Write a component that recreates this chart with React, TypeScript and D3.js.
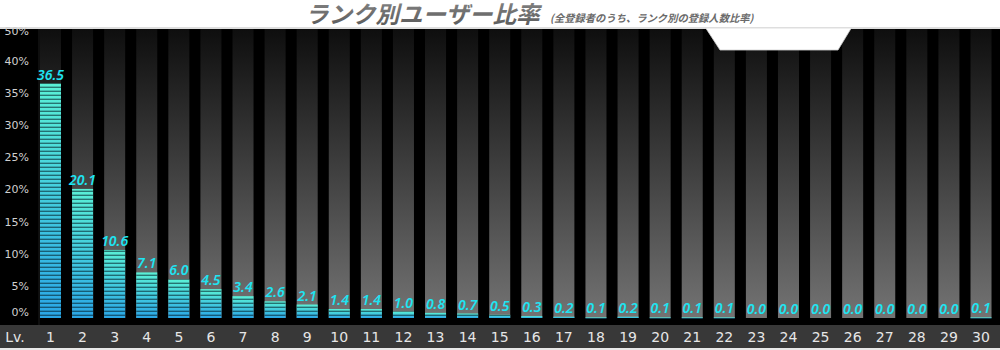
import React from 'react';
import * as d3 from 'd3';

// rank levels and share of registered users per level (%)
const levels = d3.range(1, 31).map(String);
const shares = [
  36.5, 20.1, 10.6, 7.1, 6.0, 4.5, 3.4, 2.6, 2.1, 1.4,
  1.4, 1.0, 0.8, 0.7, 0.5, 0.3, 0.2, 0.1, 0.2, 0.1,
  0.1, 0.1, 0.0, 0.0, 0.0, 0.0, 0.0, 0.0, 0.0, 0.1,
];
const yTicks = [0, 5, 10, 15, 20, 25, 30, 35, 40, 50];
const title = 'ランク別ユーザー比率';
const subtitle = '(全登録者のうち、ランク別の登録人数比率)';

const W = 1000;
const H = 350;

const App = () => {
  const panelTop = 29;
  const base = 318;

  const x = d3
    .scaleBand()
    .domain(levels)
    .range([34.45, 997.05])
    .paddingInner(0.345)
    .paddingOuter(0.1725);

  // the grey columns span 0..45%, which is the top of the panel
  const y = d3.scaleLinear().domain([0, 45]).range([base, panelTop]);

  // tick labels are clamped into the panel (0% and 50% sit at the edges)
  const tickY = (t) => Math.max(31, Math.min(312, y(t)));

  const notch = d3.line()([
    [706, panelTop - 0.5],
    [720, 50],
    [838, 50],
    [851, panelTop - 0.5],
  ]);

  return (
    <svg
      width={W}
      height={H}
      style={{ position: 'absolute', left: 0, top: 0, background: '#fff' }}
    >
      <defs>
        <linearGradient id="colBg" x1="0" y1="0" x2="0" y2="1">
          <stop offset="0%" stopColor="#0e0e0e" />
          <stop offset="100%" stopColor="#737373" />
        </linearGradient>
        <linearGradient id="barFill" x1="0" y1="0" x2="0" y2="1">
          <stop offset="0%" stopColor="#5af0d6" />
          <stop offset="100%" stopColor="#2aa6e6" />
        </linearGradient>
        <pattern id="stripes" width="8" height="4" patternUnits="userSpaceOnUse">
          <rect x="0" y="2.6" width="8" height="1.4" fill="rgba(0,20,30,0.55)" />
        </pattern>
        <linearGradient id="titleFill" x1="0" y1="0" x2="0" y2="1">
          <stop offset="0%" stopColor="#8a8a8a" />
          <stop offset="100%" stopColor="#555" />
        </linearGradient>
      </defs>

      {/* title (sits right against the top edge, as in the original) */}
      <text
        x={305}
        y={23}
        fontFamily="'Noto Sans CJK JP', sans-serif"
        fontWeight="bold"
        fontStyle="italic"
        fontSize={23.5}
        fill="url(#titleFill)"
      >
        {title}
      </text>
      <text
        x={550}
        y={22}
        fontFamily="'Noto Sans CJK JP', sans-serif"
        fontWeight="bold"
        fontStyle="italic"
        fontSize={10.3}
        fill="#6a6a6a"
      >
        {subtitle}
      </text>

      {/* black panel */}
      <rect x={0} y={panelTop} width={W} height={325 - panelTop} fill="#000" />
      <line x1={0} x2={W} y1={panelTop - 1} y2={panelTop - 1} stroke="#bdbdbd" />
      <line x1={39} x2={39} y1={panelTop} y2={325} stroke="#1c1c1c" />

      {/* grey background columns */}
      {levels.map((lv) => (
        <rect
          key={'bg' + lv}
          x={x(lv)}
          y={panelTop}
          width={x.bandwidth()}
          height={base - panelTop}
          fill="url(#colBg)"
        />
      ))}

      {/* striped bars */}
      {levels.map((lv, i) => {
        const v = shares[i];
        const h = base - y(v);
        if (h <= 0) return null;
        return (
          <g key={'bar' + lv}>
            <rect x={x(lv)} y={y(v)} width={x.bandwidth()} height={Math.max(h, 1)} fill="url(#barFill)" />
            <rect x={x(lv)} y={y(v)} width={x.bandwidth()} height={Math.max(h, 1)} fill="url(#stripes)" />
          </g>
        );
      })}

      {/* value labels */}
      {levels.map((lv, i) => (
        <text
          key={'val' + lv}
          x={x(lv) + x.bandwidth() / 2}
          y={y(shares[i]) - 4}
          textAnchor="middle"
          fontFamily="'Noto Sans', sans-serif"
          fontWeight="600"
          fontStyle="italic"
          fontSize={14}
          fill="#1ee4f2"
        >
          {shares[i].toFixed(1)}
        </text>
      ))}

      {/* y axis labels */}
      {yTicks.map((t) => (
        <text
          key={'yt' + t}
          x={29}
          y={tickY(t)}
          dy="0.35em"
          textAnchor="end"
          fontFamily="'DejaVu Sans', sans-serif"
          fontSize={11}
          fill="#d0d0d0"
        >
          {t}%
        </text>
      ))}

      {/* notch cut into the top edge */}
      <path d={notch} fill="#fff" stroke="#cfcfcf" strokeWidth={0.8} />

      {/* x axis band */}
      <rect x={0} y={325} width={W} height={23} fill="#383838" />
      <rect x={0} y={348} width={W} height={2} fill="#e8e8e8" />
      <text
        x={15}
        y={337}
        dy="0.35em"
        textAnchor="middle"
        fontFamily="'DejaVu Sans', sans-serif"
        fontSize={14}
        fill="#e6e6e6"
      >
        Lv.
      </text>
      {levels.map((lv) => (
        <text
          key={'xt' + lv}
          x={x(lv) + x.bandwidth() / 2}
          y={337}
          dy="0.35em"
          textAnchor="middle"
          fontFamily="'DejaVu Sans', sans-serif"
          fontSize={14}
          fill="#e6e6e6"
        >
          {lv}
        </text>
      ))}
    </svg>
  );
};

export default App;
